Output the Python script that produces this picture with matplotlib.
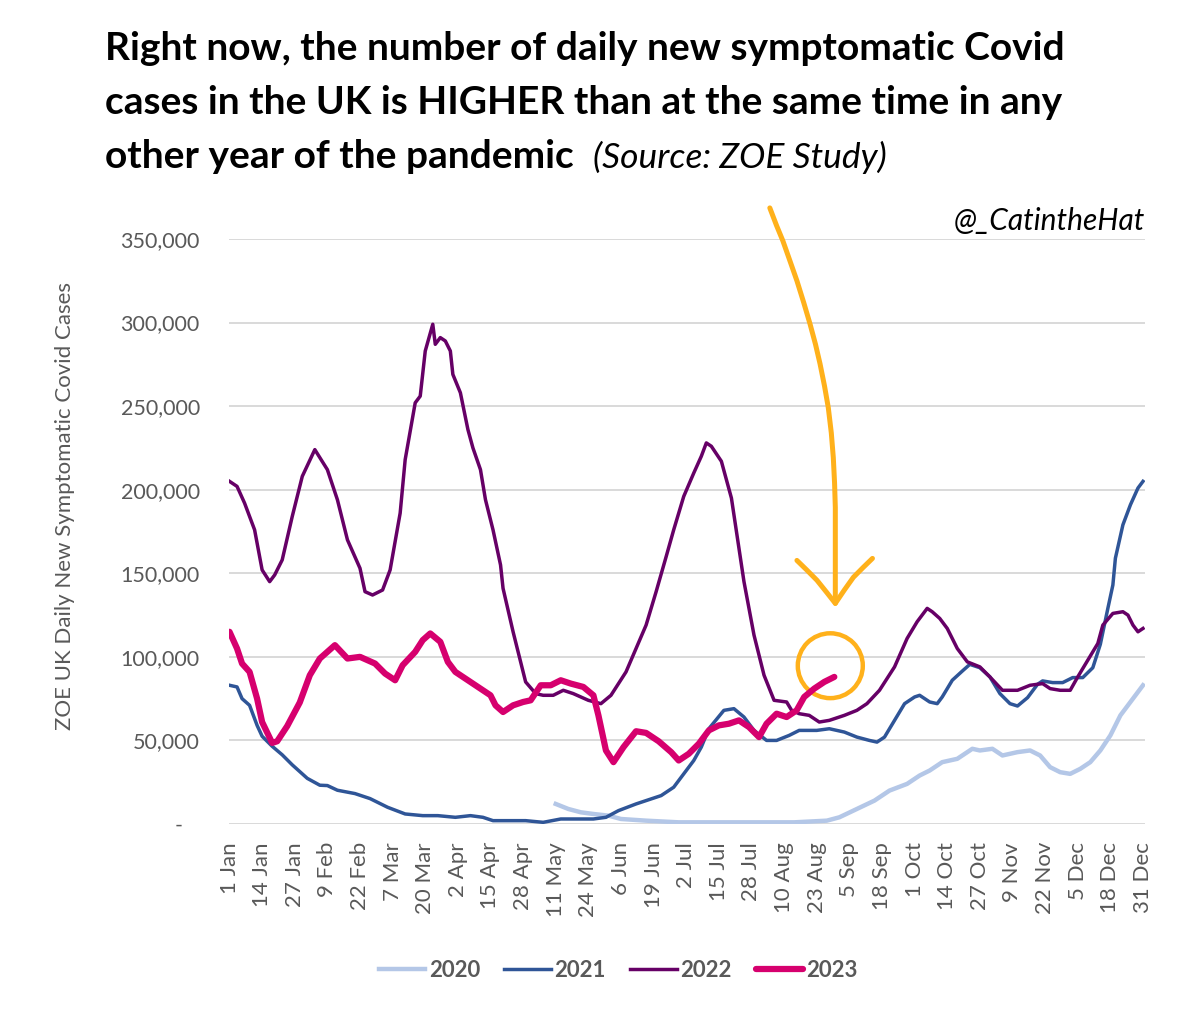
import numpy as np
import matplotlib
matplotlib.use('Agg')
import matplotlib.pyplot as plt
from matplotlib.patches import Ellipse
from matplotlib.ticker import FuncFormatter

plt.rcParams['font.family'] = ['Lato', 'DejaVu Sans']

# day of year -> daily new symptomatic cases (thousands)
days_2020 = [130, 135, 140, 145, 151, 156, 166, 179, 192, 210, 225, 238, 243, 250, 257, 263, 270, 275,
             279, 284, 290, 296, 299, 304, 308, 314, 319, 323, 327, 331, 335, 339, 343, 347, 351, 355,
             358, 362, 364]
cases_2020 = [12, 9, 7, 6, 5, 3, 2, 1, 1, 1, 1, 2, 4, 9, 14, 20, 24, 29,
              32, 37, 39, 45, 44, 45, 41, 43, 44, 41, 34, 31, 30, 33, 37, 44, 53, 65,
              71, 79, 83]

days_2021 = [0, 3, 5, 8, 11, 13, 17, 21, 25, 31, 36, 39, 43, 50, 56, 63, 70, 77, 83, 90, 96, 101, 105,
             118, 125, 132, 139, 145, 150, 155, 162, 168, 172, 177, 181, 185, 188, 191, 197, 201, 205,
             209, 214, 218, 223, 227, 234, 239, 245, 250, 255, 258, 261, 265, 269, 273, 275, 279, 282,
             284, 288, 292, 295, 299, 303, 307, 311, 314, 318, 322, 324, 328, 332, 336, 340, 344, 347,
             350, 352, 353, 356, 359, 362, 364]
cases_2021 = [83, 82, 75, 71, 59, 52.5, 46.5, 41.4, 35.4, 27.3, 23.2, 23, 20.2, 18.2, 15.2, 10, 6, 5, 5, 4, 5, 4, 2,
              2, 1, 3, 3, 3, 4, 8, 12, 15, 17, 22, 30, 38, 46, 57, 68, 69, 64,
              56, 50, 50, 53, 56, 56, 57, 55, 52, 50, 49, 52, 62, 72, 76, 77, 73, 72,
              76, 86, 91.5, 95.5, 93.5, 88, 78, 72, 70.6, 75.6, 83.6, 85.6, 84.6, 84.6, 87.6, 87.6, 93.5, 107.5,
              129, 143, 159, 179, 191, 201, 205]

days_2022 = [0, 3, 6, 10, 13, 16, 18, 21, 25, 29, 34, 39, 43, 47, 52, 54, 57, 61, 64, 68, 70, 74, 76, 78,
             81, 82, 84, 86, 88, 89, 92, 95, 97, 100, 102, 105, 108, 109, 113, 116, 118, 122, 125, 129,
             133, 137, 143, 148, 152, 158, 162, 166, 170, 174, 177, 181, 185, 188, 190, 192, 196, 200,
             202, 205, 209, 213, 217, 222, 224, 227, 231, 235, 239, 245, 250, 254, 259, 265, 270, 274,
             278, 280, 283, 286, 290, 294, 299, 303, 308, 314, 319, 324, 327, 331, 335, 338, 342, 346,
             348, 352, 356, 358, 360, 362, 364]
cases_2022 = [205, 202, 192, 176, 152, 145, 149, 158, 184, 208, 224, 212, 194, 170, 153, 139, 137, 140, 152, 186,
              218, 252, 256, 283, 299, 287, 291, 289, 283, 269, 258, 236, 225, 212, 194, 176, 155, 141, 115,
              97, 85, 78, 77, 77, 80, 78, 74, 72, 77, 91, 105, 119, 139, 160, 176, 196, 210, 220, 228, 226,
              217, 195, 175, 145, 113, 89, 74, 73, 68, 66, 65, 61, 62, 65, 68, 72, 80, 94, 111, 121, 129,
              127, 123, 117, 105, 97, 94, 88, 80, 80, 83, 84, 81, 80, 80, 88, 98, 108, 119, 126, 127, 125,
              119, 115, 117]

days_2023 = [0, 3, 5, 8, 11, 13, 17, 19, 23, 28, 32, 36, 42, 47, 52, 58, 62, 66, 69, 74, 77, 80, 84, 87,
             90, 94, 100, 104, 106, 109, 113, 117, 120, 124, 128, 132, 136, 141, 145, 147, 150, 153, 157,
             162, 166, 171, 176, 179, 183, 187, 191, 195, 199, 203, 207, 211, 214, 218, 222, 226, 229,
             233, 237, 241]
cases_2023 = [115, 105, 96, 91, 75, 61, 48.5, 49.5, 58.6, 72.7, 89, 99, 107, 99, 100, 96, 90, 86, 95, 103, 110,
              114, 109, 97, 91, 87, 81, 77, 71, 67, 71, 73, 74, 83, 83, 86, 84, 82, 77, 65, 44, 37, 46,
              55.5, 54.5, 49.5, 43, 38, 42, 48, 56, 59, 60, 62, 58, 52, 60, 66, 64, 68, 76, 81, 85, 88]

tick_days = list(range(0, 365, 13))
tick_labels = ['1 Jan', '14 Jan', '27 Jan', '9 Feb', '22 Feb', '7 Mar', '20 Mar', '2 Apr', '15 Apr',
               '28 Apr', '11 May', '24 May', '6 Jun', '19 Jun', '2 Jul', '15 Jul', '28 Jul', '10 Aug',
               '23 Aug', '5 Sep', '18 Sep', '1 Oct', '14 Oct', '27 Oct', '9 Nov', '22 Nov', '5 Dec',
               '18 Dec', '31 Dec']

grey = '#595959'
orange = '#FFB11B'

fig = plt.figure(figsize=(12, 10.18), dpi=100)
ax = fig.add_axes([229 / 1200, 1 - 824 / 1018, 916 / 1200, 585 / 1018])

l20, = ax.plot(days_2020, np.array(cases_2020) * 1000, color='#B4C7E7', lw=3.2, label='2020')
l21, = ax.plot(days_2021, np.array(cases_2021) * 1000, color='#2F5597', lw=2.5, label='2021')
l22, = ax.plot(days_2022, np.array(cases_2022) * 1000, color='#660066', lw=2.5, label='2022')
l23, = ax.plot(days_2023, np.array(cases_2023) * 1000, color='#D6006E', lw=4.5, label='2023',
               solid_capstyle='round')

ax.set_xlim(-0.2, 364.8)
ax.set_ylim(0, 350000)
ax.set_yticks(range(0, 350001, 50000))
ax.yaxis.set_major_formatter(FuncFormatter(lambda v, p: '-   ' if v == 0 else f'{v:,.0f}'))
ax.set_xticks(tick_days)
ax.set_xticklabels(tick_labels, rotation=90, va='top', ha='center')
ax.tick_params(axis='both', length=0, colors=grey)
ax.tick_params(axis='y', pad=21, labelsize=15.5)
ax.tick_params(axis='x', pad=13, labelsize=16)
ax.yaxis.grid(True, color='#D9D9D9', lw=1.4)
ax.set_axisbelow(True)
for s in ax.spines.values():
    s.set_visible(False)
ax.set_ylabel('ZOE UK Daily New Symptomatic Covid Cases', color=grey, fontsize=16, va='center')
ax.yaxis.set_label_coords(-0.179, 0.544)

# hand drawn arrow and circle
shaft_x = [215.3, 218, 220.5, 223.3, 226.1, 228.8, 231.3, 233.5, 235.3, 237.1, 238.6, 239.8, 240.6,
           241.1, 241.4, 241.4, 241.4]
shaft_y = [368.6, 358, 348.9, 337, 325, 312, 299.3, 287, 275.4, 262, 249.1, 234, 219.2,
           204, 189.4, 160, 132]
head_x = [226.1, 230, 234.1, 238, 241.4, 245, 248.6, 252.5, 256.2]
head_y = [157.7, 152, 145.8, 138.5, 132, 140, 147.6, 153.5, 158.9]
ax.plot(shaft_x, np.array(shaft_y) * 1000, color=orange, lw=3.6, clip_on=False,
        solid_capstyle='round', solid_joinstyle='round')
ax.plot(head_x, np.array(head_y) * 1000, color=orange, lw=3.6, clip_on=False,
        solid_capstyle='round', solid_joinstyle='round')
ax.add_patch(Ellipse((239.4, 94700), 25.9, 38800, fill=False, ec=orange, lw=3.2))

ax.text(1.0, 1.03, '@_CatintheHat', transform=ax.transAxes, ha='right', va='center',
        fontsize=21.5, style='italic', color='black')

# title
fig.text(0.0875, 1 - 48 / 1018, 'Right now, the number of daily new symptomatic Covid',
         fontsize=28, fontweight='bold', va='center')
fig.text(0.0875, 1 - 103 / 1018, 'cases in the UK is HIGHER than at the same time in any',
         fontsize=28, fontweight='bold', va='center')
t3 = fig.text(0.0875, 1 - 157 / 1018, 'other year of the pandemic', fontsize=28, fontweight='bold',
              va='center')
fig.canvas.draw()
bb = t3.get_window_extent()
fig.text((bb.x1 + 19) / 1200, 1 - 157 / 1018, '(Source: ZOE Study)', fontsize=25.5, style='italic',
         va='center')

leg = fig.legend(handles=[l20, l21, l22, l23], loc='center', bbox_to_anchor=(0.515, 0.047), ncol=4,
                 frameon=False, prop=dict(weight='bold', size=16), handlelength=2.1,
                 handletextpad=0.15, columnspacing=1.1)
for t in leg.get_texts():
    t.set_color(grey)

fig.savefig('out.png', dpi=100)
